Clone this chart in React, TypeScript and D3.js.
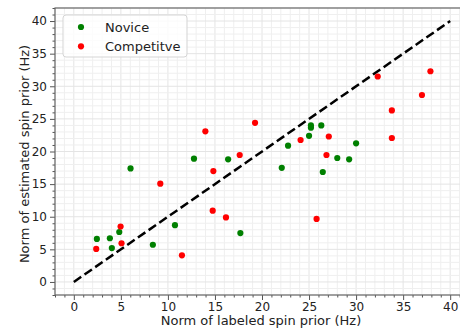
import React, { useEffect, useRef } from 'react';
import * as d3 from 'd3';

// points, [labeled, estimated]
const noviceX = [2.45, 3.83, 4.83, 4.04, 6.03, 8.4, 10.75, 12.77, 16.4, 17.7, 22.1, 22.77, 25.0, 25.2, 25.2, 26.3, 26.46, 28.0, 29.26, 30.0];
const noviceY = [6.6, 6.7, 7.66, 5.2, 17.4, 5.7, 8.7, 18.9, 18.8, 7.5, 17.5, 20.9, 22.4, 24.0, 23.65, 24.0, 16.86, 19.0, 18.8, 21.25];

const competitiveX = [2.38, 4.97, 5.07, 9.19, 11.49, 13.98, 14.76, 14.83, 16.17, 17.63, 19.26, 24.1, 25.8, 26.85, 27.1, 32.3, 33.8, 33.8, 37.0, 37.9];
const competitiveY = [5.06, 8.5, 5.93, 15.07, 4.09, 23.1, 10.93, 17.0, 9.9, 19.46, 24.4, 21.76, 9.66, 19.46, 22.3, 31.5, 26.3, 22.07, 28.66, 32.3];

const majorTicks = [0, 5, 10, 15, 20, 25, 30, 35, 40];
const minorTicks = d3.range(-2, 43, 1);

const seriesNames = ['Novice', 'Competitve'];
const seriesColors = ['green', 'red'];

const width = 460;
const height = 330;
const margin = { top: 8, right: -9, bottom: 35, left: 55 };
const font = 'DejaVu Sans, sans-serif';

const App = () => {

  const chartRef = useRef(null);

  useEffect(() => {
    const svg = d3.select(chartRef.current);
    svg.selectAll('*').remove();

    const xScale = d3.scaleLinear().domain([-2, 42]).range([margin.left, width - margin.right]);
    const yScale = d3.scaleLinear().domain([-2, 42]).range([height - margin.bottom, margin.top]);

    const x0 = xScale(-2), x1 = xScale(42), y0 = yScale(-2), y1 = yScale(42);

    // grid
    const grid = svg.append('g');
    grid.selectAll('line.vminor')
      .data(minorTicks)
      .join('line')
      .attr('x1', d => xScale(d)).attr('x2', d => xScale(d))
      .attr('y1', y0).attr('y2', y1)
      .attr('stroke', d => (d % 5 === 0 ? '#e4e4e4' : '#efefef'))
      .attr('stroke-width', 1);
    grid.selectAll('line.hminor')
      .data(minorTicks)
      .join('line')
      .attr('y1', d => yScale(d)).attr('y2', d => yScale(d))
      .attr('x1', x0).attr('x2', x1)
      .attr('stroke', d => (d % 5 === 0 ? '#e4e4e4' : '#efefef'))
      .attr('stroke-width', 1);

    // identity line
    svg.append('line')
      .attr('x1', xScale(0)).attr('y1', yScale(0))
      .attr('x2', xScale(40)).attr('y2', yScale(40))
      .attr('stroke', 'black')
      .attr('stroke-width', 2.5)
      .attr('stroke-dasharray', '9,4');

    const series = [
      noviceX.map((x, i) => [x, noviceY[i]]),
      competitiveX.map((x, i) => [x, competitiveY[i]]),
    ];

    series.forEach((pts, s) => {
      svg.append('g')
        .selectAll('circle')
        .data(pts)
        .join('circle')
        .attr('cx', d => xScale(d[0]))
        .attr('cy', d => yScale(d[1]))
        .attr('r', 3.1)
        .attr('fill', seriesColors[s]);
    });

    // axes
    const xAxis = d3.axisBottom(xScale).tickValues(majorTicks).tickSize(5).tickPadding(2.5).tickFormat(d3.format('d'));
    const xMinor = d3.axisBottom(xScale).tickValues(minorTicks.filter(d => d % 5 !== 0)).tickSize(2.5).tickFormat(() => '');
    const yAxis = d3.axisLeft(yScale).tickValues(majorTicks).tickSize(5).tickPadding(3).tickFormat(d3.format('d'));
    const yMinor = d3.axisLeft(yScale).tickValues(minorTicks.filter(d => d % 5 !== 0)).tickSize(2.5).tickFormat(() => '');

    const styleAxis = g => {
      g.select('.domain').remove();
      g.selectAll('line').attr('stroke', '#555');
      g.selectAll('text').attr('font-family', font).attr('font-size', 12).attr('fill', '#222');
    };

    svg.append('g').attr('transform', `translate(0, ${y0})`).call(xAxis).call(styleAxis);
    svg.append('g').attr('transform', `translate(0, ${y0})`).call(xMinor).call(styleAxis);
    svg.append('g').attr('transform', `translate(${x0}, 0)`).call(yAxis).call(styleAxis);
    svg.append('g').attr('transform', `translate(${x0}, 0)`).call(yMinor).call(styleAxis);

    // spines
    svg.append('rect')
      .attr('x', x0).attr('y', y1)
      .attr('width', x1 - x0).attr('height', y0 - y1)
      .attr('fill', 'none')
      .attr('stroke', '#666')
      .attr('stroke-width', 1.2);

    // axis labels
    svg.append('text')
      .attr('x', 261)
      .attr('y', 324.5)
      .attr('text-anchor', 'middle')
      .attr('font-family', font)
      .attr('font-size', 13)
      .attr('fill', '#222')
      .text('Norm of labeled spin prior (Hz)');

    svg.append('text')
      .attr('transform', `translate(29, 154) rotate(-90)`)
      .attr('text-anchor', 'middle')
      .attr('font-family', font)
      .attr('font-size', 13)
      .attr('fill', '#222')
      .text('Norm of estimated spin prior (Hz)');

    // legend
    const legend = svg.append('g').attr('transform', `translate(${x0 + 8}, ${y1 + 7})`);
    legend.append('rect')
      .attr('width', 124).attr('height', 42)
      .attr('rx', 3)
      .attr('fill', 'white').attr('fill-opacity', 0.8)
      .attr('stroke', '#d5d5d5');
    seriesNames.forEach((name, i) => {
      legend.append('circle')
        .attr('cx', 18).attr('cy', 12 + i * 19.3)
        .attr('r', 3.1)
        .attr('fill', seriesColors[i]);
      legend.append('text')
        .attr('x', 42).attr('y', 12 + i * 19.3)
        .attr('dy', '0.35em')
        .attr('font-family', font)
        .attr('font-size', 13)
        .attr('fill', '#222')
        .text(name);
    });
  });

  return (
    <svg
      ref={chartRef}
      width={width}
      height={height}
      style={{ position: 'absolute', left: 0, top: 0, background: 'white' }}
    />
  );
};

export default App;
